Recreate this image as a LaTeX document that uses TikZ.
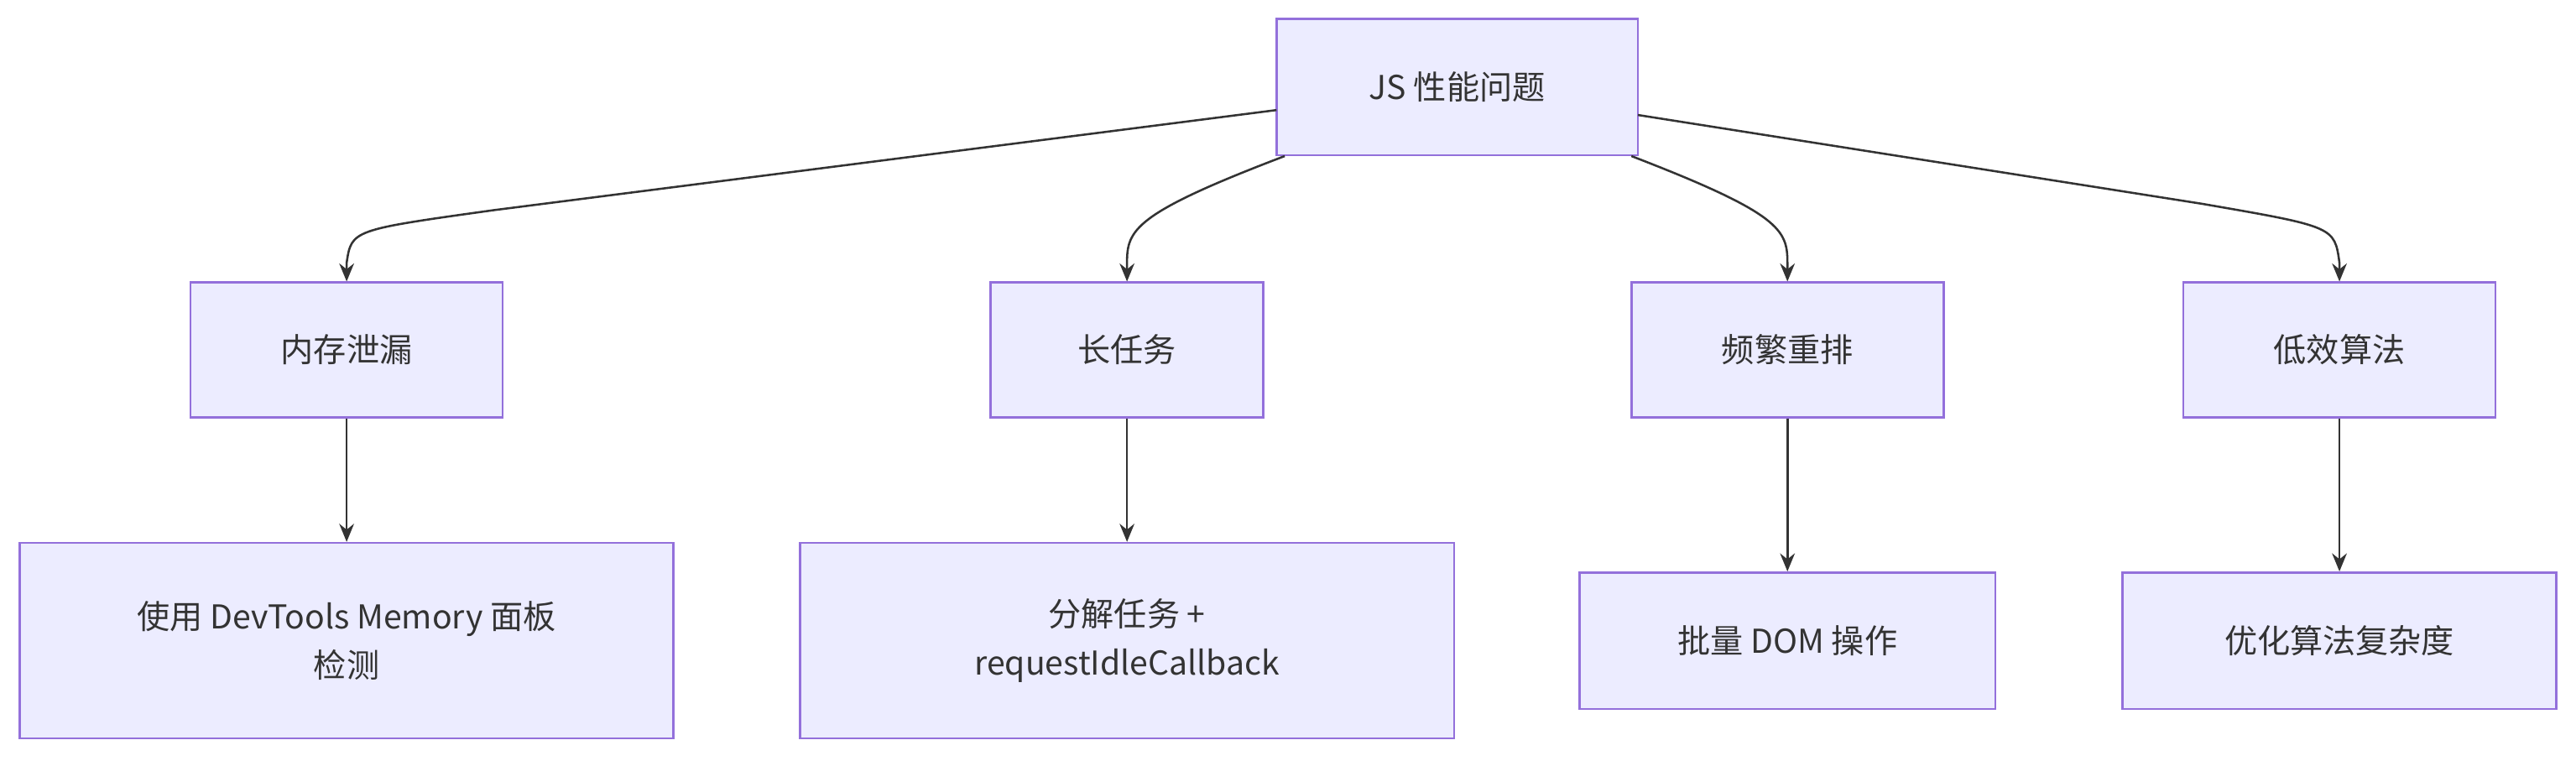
\documentclass[tikz,border=0pt]{standalone}
\usepackage{fontspec}
\setmainfont{Noto Sans CJK SC}
\usetikzlibrary{arrows.meta}
\begin{document}
\begin{tikzpicture}[x=1pt,y=-1pt,
  box/.style={draw=violet!60!blue!70, draw={rgb,255:red,147;green,112;blue,219}, fill={rgb,255:red,236;green,236;blue,255}, line width=1.3pt, inner sep=0pt, align=center, font=\fontsize{20}{30}\selectfont, text={rgb,255:red,51;green,51;blue,51}},
  ln/.style={draw={rgb,255:red,51;green,51;blue,51}, line width=1.3pt, -{Stealth[length=11pt,width=9pt]}}]
\useasboundingbox (0,0) rectangle (1568,463);
\node[box,minimum width=220pt,minimum height=83pt] (top) at (887,53) {JS 性能问题};
\node[box,minimum width=190pt,minimum height=82pt] (a) at (211,213) {内存泄漏};
\node[box,minimum width=166pt,minimum height=82pt] (b) at (686,213) {长任务};
\node[box,minimum width=190pt,minimum height=82pt] (c) at (1088,213) {频繁重排};
\node[box,minimum width=190pt,minimum height=82pt] (d) at (1424,213) {低效算法};
\node[box,minimum width=398pt,minimum height=119pt] (a2) at (211,390) {使用 DevTools Memory 面板\\检测};
\node[box,minimum width=398pt,minimum height=119pt] (b2) at (686,390) {分解任务 +\\requestIdleCallback};
\node[box,minimum width=253pt,minimum height=83pt] (c2) at (1088,390) {批量 DOM 操作};
\node[box,minimum width=264pt,minimum height=83pt] (d2) at (1424,390) {优化算法复杂度};
\coordinate (t1) at (777,67);
\coordinate (t2) at (782,95);
\coordinate (t3) at (993,95);
\coordinate (t4) at (997,70);
\draw[ln] (t1) -- (300,128) .. controls (214,140) .. (211,160) -- (a.north);
\draw[ln] (t2) .. controls (690,130) and (686,140) .. (686,160) -- (b.north);
\draw[ln] (t3) .. controls (1084,130) and (1088,140) .. (1088,160) -- (c.north);
\draw[ln] (t4) -- (1340,124) .. controls (1421,138) .. (1424,160) -- (d.north);
\draw[ln] (a.south) -- (a2.north);
\draw[ln] (b.south) -- (b2.north);
\draw[ln] (c.south) -- (c2.north);
\draw[ln] (d.south) -- (d2.north);
\end{tikzpicture}
\end{document}
